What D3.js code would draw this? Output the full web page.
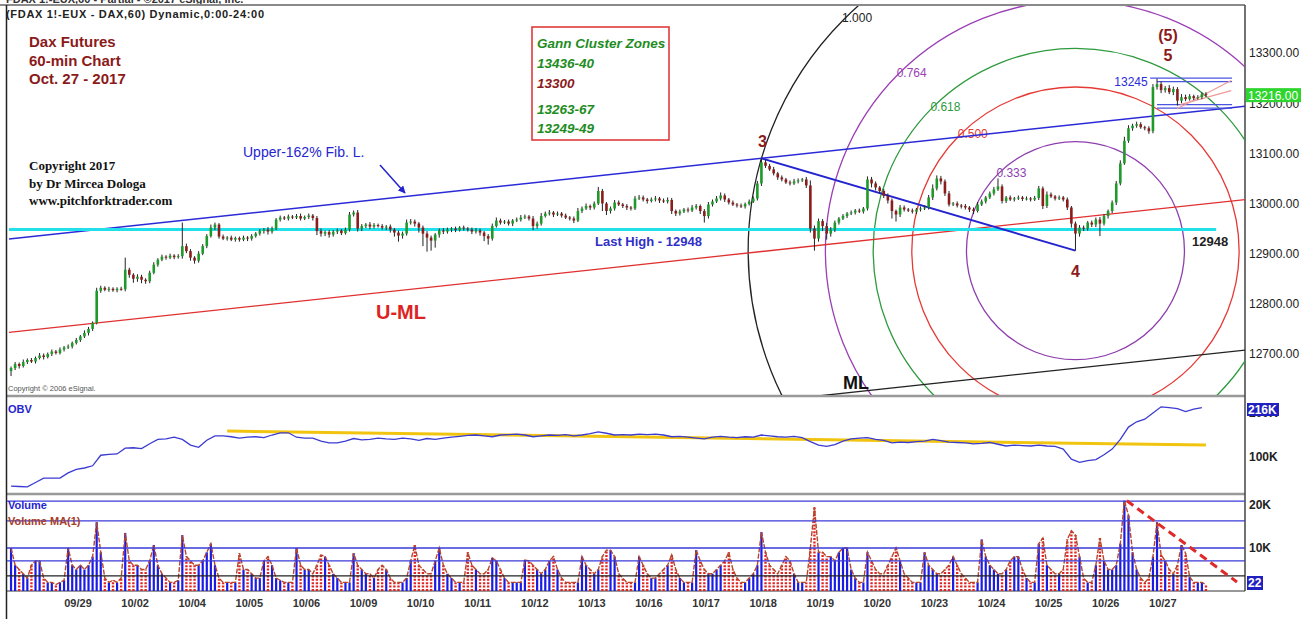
<!DOCTYPE html>
<html>
<head>
<meta charset="utf-8">
<script src="https://cdn.jsdelivr.net/npm/d3@7"></script>
<style>
body { margin:0; background:#fff; }
svg { display:block; font-family:"Liberation Sans", Arial, sans-serif; }
</style>
</head>
<body>
<script>
// trading days (14 hourly bars each), first one has no label on the chart
var days = ["09/28","09/29","10/02","10/04","10/05","10/06","10/09","10/10","10/11","10/12","10/13",
            "10/16","10/17","10/18","10/19","10/20","10/23","10/24","10/25","10/26","10/27"];

// hourly closes, one row per day
var firstOpen = 12666;
var closes = [
	[12672,12680,12676,12684,12688,12685,12692,12697,12694,12700,12705,12702,12709,12713],
	[12715,12722,12728,12735,12742,12750,12762,12826,12832,12828,12830,12827,12830,12829],
	[12868,12858,12850,12854,12848,12845,12862,12878,12888,12894,12892,12896,12893,12895],
	[12915,12905,12892,12886,12900,12915,12935,12952,12958,12934,12930,12932,12928,12931],
	[12928,12932,12930,12935,12940,12945,12948,12944,12950,12968,12972,12970,12974,12972],
	[12975,12970,12973,12976,12971,12945,12940,12943,12938,12944,12946,12941,12948,12978],
	[12982,12950,12955,12958,12954,12957,12955,12952,12954,12948,12942,12936,12940,12962],
	[12964,12960,12952,12940,12932,12926,12938,12946,12944,12948,12950,12947,12952,12950],
	[12948,12944,12946,12942,12935,12930,12955,12966,12962,12964,12960,12966,12968,12972],
	[12974,12970,12955,12960,12975,12980,12982,12978,12980,12976,12972,12970,12966,12985],
	[12990,12995,12992,13000,13025,13000,12985,12990,13002,12998,12995,12992,12990,13010],
	[13012,13008,13005,13008,13010,13006,13004,13007,12985,12980,12984,12988,12986,12992],
	[12995,12985,12975,12998,13004,13010,13016,13008,13002,12998,12996,12994,12999,13004],
	[13010,13040,13082,13075,13068,13060,13052,13048,13042,13040,13044,13046,13048,13036],
	[12950,12930,12965,12955,12940,12948,12962,12970,12975,12980,12982,12986,12984,12990],
	[13048,13040,13032,13025,13015,13006,12985,12978,12992,12988,12986,12984,12988,12990],
	[12992,13012,13030,13050,13044,13020,12998,13000,12996,12995,12992,12988,12985,12998],
	[13004,13012,13020,13028,13034,13005,13012,13008,13010,13012,13009,13010,13008,13011],
	[13030,12995,13018,13014,13010,13012,13008,12992,12960,12940,12952,12950,12962,12958],
	[12968,12960,12975,12985,13002,13040,13080,13125,13150,13155,13158,13152,13150,13144],
	[13232,13238,13226,13230,13222,13228,13205,13212,13208,13214,13210,13212,13218,13216]
];
// wick length above / below the body, points
var upWick = [
	[3,4,3,5,3,4,3,5,4,3,4,3,4,3],[4,3,4,3,5,4,3,6,4,3,4,3,3,4],[24,4,3,5,4,3,4,5,3,4,3,4,3,4],
	[47,5,4,3,5,4,4,6,4,3,4,3,4,3],[3,4,3,4,3,4,3,5,4,3,4,3,4,3],[4,5,3,4,3,4,5,3,4,3,4,3,4,5],
	[4,5,4,3,5,4,3,4,3,4,3,4,4,6],[5,4,3,4,5,4,3,4,5,4,3,4,3,4],[3,4,5,4,3,4,5,6,4,3,4,3,4,5],
	[4,3,5,4,6,4,5,3,4,3,4,3,4,6],[4,5,3,4,8,4,3,4,5,4,3,4,3,5],[5,4,3,4,5,3,4,5,4,3,4,3,4,5],
	[4,3,4,5,4,5,6,4,3,4,3,4,3,4],[4,5,8,5,4,5,3,4,3,4,5,4,3,5],[10,6,5,4,6,5,4,3,4,3,4,3,4,3],
	[6,5,4,3,4,5,4,3,5,4,3,4,3,4],[4,5,8,6,5,4,5,3,4,3,4,3,4,5],[4,3,4,5,16,4,3,4,3,4,3,4,3,4],
	[5,4,6,4,3,4,3,4,3,4,5,4,3,4],[4,5,4,3,4,5,6,8,6,4,5,4,3,4],[6,11,5,4,6,5,4,6,5,4,3,4,3,4]
];
var dnWick = [
	[10,4,5,3,4,3,4,3,5,3,4,3,3,4],[3,4,3,4,3,5,4,3,4,3,4,3,4,3],[4,6,8,6,7,5,4,3,4,3,4,3,4,3],
	[5,4,6,6,4,3,4,3,5,4,3,4,3,4],[4,3,5,4,3,4,5,6,4,3,4,3,4,3],[3,4,3,4,5,8,6,5,6,4,5,4,3,4],
	[4,6,5,4,5,4,3,4,5,6,8,12,6,4],[4,6,10,25,28,20,14,6,5,4,5,4,3,4],[4,5,4,6,10,12,4,3,4,3,4,5,3,4],
	[3,4,8,5,4,3,4,5,3,4,3,4,5,3],[4,3,5,4,3,15,8,5,4,3,4,5,4,3],[3,4,5,3,4,5,3,4,6,5,4,3,4,3],
	[4,6,13,5,4,3,4,5,4,3,4,3,4,3],[3,4,5,4,3,4,5,4,3,4,3,4,3,5],[8,24,6,10,12,6,5,4,3,4,3,4,3,4],
	[4,8,6,5,4,6,15,14,5,4,3,4,5,4],[3,4,5,4,6,5,4,3,4,5,4,5,6,3],[3,4,3,4,3,5,4,3,4,3,4,3,4,3],
	[4,6,4,3,4,3,4,5,8,34,6,5,4,5],[5,25,4,5,4,5,4,3,4,5,4,3,4,5],[4,5,6,5,4,6,10,5,4,3,4,3,4,3]
];
// hourly volume, thousands
var volume = [
	[10,6,5,4,3,6,7,7,3,2,2,1.5,2,2.5],
	[10,6,5,6,5,6,8,16,9,3,2,2.5,2,3],
	[13.5,7,6,6,5,5,7,10.7,6,4,3,2,2,2.5],
	[13,8,7,6,6,7,9,11,6,3,2,2,2,2],
	[8.8,5,5,4,3,3,7,8,6,3,2.5,2,2,2],
	[10,6,5,5,4,6,8.4,8,6,4,3,2,2,2],
	[8.8,6,5,4,4,3,5,6,5,3,2,2,2,3],
	[7,10.7,6,5,4,4,7,10,6,4,3,2,2,2],
	[9,6,5,4,4,5,7.7,7,5,3,2,2,2,2],
	[7.2,7,6,5,4,5,7,8,5,3,2,2,2,2],
	[8,6,5,4,5,8,9.5,9.5,8,4,3,2,2,2],
	[8,6,4,3,3,4,5,6,8.4,5,3,2,2,2],
	[9.5,7,5,4,4,5,6,7,9,5,3,2,2,3],
	[4,6,13.7,9,6,5,4,6,8,7,4,2,2,2],
	[10,19.5,9,9,8,8,7,9,10,10,5,3,2,2],
	[9,7,5,4,4,6,8,10,7,4,3,2,2,2],
	[9,6,5,4,4,5,6,8,6,4,3,2,2,2],
	[12,8,6,5,4,4,5,7,8,8,5,3,2,2],
	[11,12.3,6,5,4,4,5,12,14,13,8,3,2,2],
	[6,12.3,7,5,5,6,11,21,17.6,9,5,3,2,3],
	[8,16,8.4,7,5,4,6,10.7,8.8,3.3,2,2,2,1.5]
];
// OBV in thousands, read every second bar
var obv = [34,33,32,42,52,52,52,64,72,75,80,104,106,107,120,121,119,130,140,141,
	145,140,127,122,138,148,148,146,143,145,146,144,150,155,155,145,143,143,136,132,
	132,136,142,139,140,143,141,140,143,141,138,142,140,143,145,147,149,150,148,146,
	150,151,152,150,146,148,150,149,151,148,150,153,157,154,150,151,150,152,151,152,
	150,146,147,145,143,141,145,147,145,144,146,145,150,148,146,145,147,144,135,127,
	124,128,136,141,143,144,140,138,132,134,133,135,136,140,137,134,133,132,130,131,
	133,129,125,127,126,125,127,125,124,118,95,88,92,94,105,118,140,168,180,186,
	200,214,212,210,203,209,212];

var priceTicks = [12700,12800,12900,13000,13100,13200,13300];
var obvTicks = [100,200];
var volTicks = [10,20];
var lastPrice = 13216, lastObv = "216K", lastVol = "22";

// drawn studies (bar index, price)
var fibRatios  = [0.333, 0.5, 0.618, 0.764, 1.0];
var fibColors  = ["#8e3fae", "#e53935", "#2e9a3e", "#9b3fb5", "#222"];
var fibLabels  = ["0.333", "0.500", "0.618", "0.764", "1.000"];
var forkLines  = [
	{b0:-0.5, p0:12929, b1:305, p1:13196, color:"#2a2ad8", w:1.5},	// upper 162%
	{b0:-0.5, p0:12743, b1:305, p1:13010, color:"#e03030", w:1.3},	// U-ML
	{b0:-0.5, p0:12443, b1:305, p1:12710, color:"#222",    w:1.3}	// ML
];
var lastHigh = 12948;
var boxLines = [[279.3,13250],[281,13243],[281,13197],[281,13190]];
var triLines = [[285.9,13189,299.2,13245],[286.7,13197,299.2,13225]];
var obvTrend = [53,159,293,127];
var volLevels = [20.9, 16.3, 10, 7];
var volBlack = 3.5;
var volTrend = [273.6, 21, 300.6, 2.1];

var gannLines = [
	{t:"Gann Cluster Zones", c:"#1e8c1e"},
	{t:"13436-40", c:"#1e8c1e"},
	{t:"13300", c:"#8b1a1a"},
	{t:"13263-67", c:"#1e8c1e"},
	{t:"13249-49", c:"#1e8c1e"}
];

var W = 1308, H = 619;
var L = 7, R = 1245;
var svg = d3.select("body").append("svg").attr("width", W).attr("height", H);
var defs = svg.append("defs");
defs.append("clipPath").attr("id","cMain").append("rect").attr("x",L).attr("y",6).attr("width",R-L).attr("height",389);
defs.append("clipPath").attr("id","cObv").append("rect").attr("x",L).attr("y",398).attr("width",R-L).attr("height",94);
defs.append("clipPath").attr("id","cVol").append("rect").attr("x",L).attr("y",496).attr("width",R-L).attr("height",95);

// flat bar list
var bars = [];
closes.forEach(function(day, k){
	day.forEach(function(c, j){
		var i = bars.length;
		var o = i == 0 ? firstOpen : bars[i-1].c;
		bars.push({i:i, o:o, c:c, h:Math.max(o,c)+upWick[k][j], l:Math.min(o,c)-dnWick[k][j], v:volume[k][j]});
	});
});

var x = d3.scaleLinear().domain([-0.5, bars.length-0.5]).range([9, 1208]);
var yP = d3.scaleLinear().domain([12700, 13300]).range([354, 53]);
var yO = d3.scaleLinear().domain([100, 200]).range([457, 413]);
var yV = d3.scaleLinear().domain([0, 20]).range([591, 505]);

// ---------- frame ----------
svg.append("text").attr("x",6).attr("y",3).attr("font-size",11).attr("font-weight","bold").attr("fill","#333")
	.text("FDAX 1!-EUX,60 - Partial - \u00a92017 eSignal, Inc.");
svg.append("line").attr("x1",0).attr("x2",R).attr("y1",5).attr("y2",5).attr("stroke","#8a8a8a").attr("stroke-width",2);
[396, 494].forEach(function(yy){
	svg.append("line").attr("x1",L).attr("x2",R).attr("y1",yy).attr("y2",yy).attr("stroke","#999").attr("stroke-width",2.5);
});
svg.append("line").attr("x1",L).attr("x2",R).attr("y1",591).attr("y2",591).attr("stroke","#333").attr("stroke-width",1.2);
svg.append("line").attr("x1",L-0.5).attr("x2",L-0.5).attr("y1",5).attr("y2",H).attr("stroke","#222").attr("stroke-width",1.5);
svg.append("line").attr("x1",R).attr("x2",R).attr("y1",5).attr("y2",591).attr("stroke","#444").attr("stroke-width",1.5);

// ---------- main panel ----------
var gm = svg.append("g").attr("clip-path","url(#cMain)");

// fib circles centred on point 4, radius = distance 3 -> 4
var p3 = d3.maxIndex(bars.slice(0, 200), function(d){ return d.h; });
var p4 = 200 + d3.minIndex(bars.slice(200, 280), function(d){ return d.l; });
var c3 = [x(p3), yP(bars[p3].h)], c4 = [x(p4), yP(bars[p4].l)];
var rad = Math.hypot(c3[0]-c4[0], c3[1]-c4[1]);
fibRatios.forEach(function(f, n){
	gm.append("circle").attr("cx",c4[0]).attr("cy",c4[1]).attr("r",rad*f)
		.attr("fill","none").attr("stroke",fibColors[n]).attr("stroke-width",1.3);
	gm.append("text").attr("x",c4[0]-rad*f*0.707-2).attr("y",c4[1]-rad*f*0.712+4)
		.attr("font-size",12).attr("fill",fibColors[n]).text(fibLabels[n]);
});

forkLines.forEach(function(d){
	gm.append("line").attr("x1",x(d.b0)).attr("y1",yP(d.p0)).attr("x2",x(d.b1)).attr("y2",yP(d.p1))
		.attr("stroke",d.color).attr("stroke-width",d.w);
});
gm.append("line").attr("x1",x(-0.5)).attr("x2",x(295.5)).attr("y1",yP(lastHigh)).attr("y2",yP(lastHigh))
	.attr("stroke","#22e0ea").attr("stroke-width",3);
gm.append("line").attr("x1",c3[0]).attr("y1",c3[1]).attr("x2",c4[0]).attr("y2",c4[1])
	.attr("stroke","#2323cf").attr("stroke-width",2);

boxLines.forEach(function(d){
	gm.append("line").attr("x1",x(d[0])).attr("x2",x(299.4)).attr("y1",yP(d[1])).attr("y2",yP(d[1]))
		.attr("stroke","#4b55e0").attr("stroke-width",1.2);
});
triLines.forEach(function(d){
	gm.append("line").attr("x1",x(d[0])).attr("y1",yP(d[1])).attr("x2",x(d[2])).attr("y2",yP(d[3]))
		.attr("stroke","#ee9a9a").attr("stroke-width",1.2);
});

// candles
var cg = gm.append("g");
cg.selectAll("line.w").data(bars).enter().append("line").attr("class","w")
	.attr("x1",function(d){ return x(d.i); }).attr("x2",function(d){ return x(d.i); })
	.attr("y1",function(d){ return yP(d.h); }).attr("y2",function(d){ return yP(d.l); })
	.attr("stroke","#222").attr("stroke-width",1);
cg.selectAll("rect").data(bars).enter().append("rect")
	.attr("x",function(d){ return x(d.i)-1.3; }).attr("width",2.6)
	.attr("y",function(d){ return yP(Math.max(d.o,d.c)); })
	.attr("height",function(d){ return Math.max(1, Math.abs(yP(d.o)-yP(d.c))); })
	.attr("fill",function(d){ return d.c >= d.o ? "#1f9a2a" : "#8b1c1c"; });

// ---------- main panel texts ----------
var tt = svg.append("g");
tt.append("text").attr("x",6).attr("y",18).attr("font-size",11).attr("font-weight","bold").attr("fill","#222")
	.attr("textLength",258).text("(FDAX 1!-EUX - DAX,60) Dynamic,0:00-24:00");
["Dax Futures","60-min Chart","Oct. 27 - 2017"].forEach(function(s, n){
	tt.append("text").attr("x",29).attr("y",47+n*18.5).attr("font-size",15).attr("font-weight","bold")
		.attr("fill","#8b1a1a").text(s);
});
["Copyright 2017","by Dr Mircea Dologa","www.pitchforktrader.com"].forEach(function(s, n){
	tt.append("text").attr("x",29).attr("y",170+n*17.5).attr("font-size",13).attr("font-weight","bold")
		.attr("font-family","'Liberation Serif','Times New Roman',serif").attr("fill","#111").text(s);
});
tt.append("text").attr("x",8).attr("y",391).attr("font-size",7.5).attr("fill","#555").text("Copyright \u00a9 2006 eSignal.");

tt.append("rect").attr("x",532).attr("y",27).attr("width",137).attr("height",113)
	.attr("fill","none").attr("stroke","#e03a3a").attr("stroke-width",1.6);
gannLines.forEach(function(d, n){
	tt.append("text").attr("x",537).attr("y",[48,68,88,114,133][n]).attr("font-size",13.5)
		.attr("font-style","italic").attr("font-weight","bold").attr("fill",d.c).text(d.t);
});

tt.append("text").attr("x",243).attr("y",157).attr("font-size",14).attr("fill","#2525cf").text("Upper-162% Fib. L.");
defs.append("marker").attr("id","arr").attr("viewBox","0 0 10 10").attr("refX",9).attr("refY",5)
	.attr("markerWidth",5).attr("markerHeight",5).attr("orient","auto")
	.append("path").attr("d","M0,0L10,5L0,10z").attr("fill","#2525cf");
tt.append("line").attr("x1",380).attr("y1",165).attr("x2",405).attr("y2",193)
	.attr("stroke","#2525cf").attr("stroke-width",1.5).attr("marker-end","url(#arr)");
tt.append("text").attr("x",595).attr("y",246).attr("font-size",13).attr("font-weight","bold").attr("fill","#3030c8").text("Last High - 12948");
tt.append("text").attr("x",1192).attr("y",246).attr("font-size",13).attr("font-weight","bold").attr("fill","#222").text("12948");
tt.append("text").attr("x",376).attr("y",319).attr("font-size",20).attr("font-weight","bold").attr("fill","#dd2424").text("U-ML");
tt.append("text").attr("x",843).attr("y",389).attr("font-size",18).attr("font-weight","bold").attr("fill","#111").text("ML");
tt.append("text").attr("x",1131).attr("y",86).attr("font-size",12).attr("text-anchor","middle").attr("fill","#2a2ae0").text("13245");

var wave = [{t:"3", x:c3[0]+1, y:147}, {t:"4", x:c4[0], y:277}, {t:"5", x:1168, y:61}, {t:"(5)", x:1168, y:41}];
wave.forEach(function(d){
	tt.append("text").attr("x",d.x).attr("y",d.y).attr("text-anchor","middle").attr("font-size",16)
		.attr("font-weight","bold").attr("fill","#8b1a1a").text(d.t);
});

// price axis
var ax = svg.append("g").attr("transform","translate("+R+",0)")
	.call(d3.axisRight(yP).tickValues(priceTicks).tickSize(0).tickPadding(4).tickFormat(d3.format(".2f")));
ax.select(".domain").remove();
ax.selectAll("text").attr("font-size",12).attr("fill","#222").attr("font-family","'Liberation Sans',Arial,sans-serif");
svg.append("rect").attr("x",R+1).attr("y",yP(lastPrice)-7).attr("width",55).attr("height",14).attr("fill","#2fd52f");
svg.append("text").attr("x",R+3).attr("y",yP(lastPrice)+4.5).attr("font-size",12).attr("fill","#fff").text(d3.format(".2f")(lastPrice));

// ---------- OBV ----------
var go = svg.append("g").attr("clip-path","url(#cObv)");
go.append("line").attr("x1",x(obvTrend[0])).attr("y1",yO(obvTrend[1])).attr("x2",x(obvTrend[2])).attr("y2",yO(obvTrend[3]))
	.attr("stroke","#f1c40f").attr("stroke-width",3);
go.append("path").datum(obv)
	.attr("d", d3.line().x(function(d, j){ return x(j*2); }).y(function(d){ return yO(d); }))
	.attr("fill","none").attr("stroke","#3b3bd2").attr("stroke-width",1.3);
svg.append("text").attr("x",8).attr("y",413).attr("font-size",11).attr("font-weight","bold").attr("fill","#2525cf").text("OBV");
var ao = svg.append("g").attr("transform","translate("+R+",0)")
	.call(d3.axisRight(yO).tickValues(obvTicks).tickSize(0).tickPadding(4).tickFormat(function(d){ return d+"K"; }));
ao.select(".domain").remove();
ao.selectAll("text").attr("font-size",12).attr("font-weight","bold").attr("fill","#222");
svg.append("rect").attr("x",R+2).attr("y",403).attr("width",32).attr("height",13).attr("fill","#2020c0");
svg.append("text").attr("x",R+3).attr("y",414).attr("font-size",12).attr("font-weight","bold").attr("fill","#fff").text(lastObv);

// ---------- Volume ----------
var gv = svg.append("g").attr("clip-path","url(#cVol)");
gv.selectAll("rect").data(bars.filter(function(d){ return d.c >= d.o; })).enter().append("rect")
	.attr("x",function(d){ return x(d.i)-1.1; }).attr("width",2.2)
	.attr("y",function(d){ return yV(d.v); }).attr("height",function(d){ return yV(0)-yV(d.v); })
	.attr("fill","#1b1be6");
gv.selectAll("line.dn").data(bars.filter(function(d){ return d.c < d.o; })).enter().append("line").attr("class","dn")
	.attr("x1",function(d){ return x(d.i); }).attr("x2",function(d){ return x(d.i); })
	.attr("y1",yV(0)).attr("y2",function(d){ return yV(d.v); })
	.attr("stroke","#e02424").attr("stroke-width",2.4).attr("stroke-dasharray","2,1.4");
gv.append("path").datum(bars)
	.attr("d", d3.line().x(function(d){ return x(d.i); }).y(function(d){ return yV(d.v); }))
	.attr("fill","none").attr("stroke","#b5472a").attr("stroke-width",1.4).attr("stroke-dasharray","5,1.5");
volLevels.forEach(function(v){
	gv.append("line").attr("x1",L).attr("x2",R).attr("y1",yV(v)).attr("y2",yV(v)).attr("stroke","#3a3ad8").attr("stroke-width",1.4);
});
gv.append("line").attr("x1",L).attr("x2",R).attr("y1",yV(volBlack)).attr("y2",yV(volBlack)).attr("stroke","#222").attr("stroke-width",1.3);
gv.append("line").attr("x1",x(volTrend[0])).attr("y1",yV(volTrend[1])).attr("x2",x(volTrend[2])).attr("y2",yV(volTrend[3]))
	.attr("stroke","#e02a2a").attr("stroke-width",3).attr("stroke-dasharray","8,5");
svg.append("text").attr("x",8).attr("y",509).attr("font-size",11).attr("font-weight","bold").attr("fill","#2525cf").text("Volume");
svg.append("text").attr("x",8).attr("y",525).attr("font-size",11).attr("font-weight","bold").attr("fill","#a8402a").text("Volume MA(1)");
var av = svg.append("g").attr("transform","translate("+R+",0)")
	.call(d3.axisRight(yV).tickValues(volTicks).tickSize(0).tickPadding(4).tickFormat(function(d){ return d+"K"; }));
av.select(".domain").remove();
av.selectAll("text").attr("font-size",12).attr("font-weight","bold").attr("fill","#222");
svg.append("rect").attr("x",R+2).attr("y",576).attr("width",16).attr("height",14).attr("fill","#2020c0");
svg.append("text").attr("x",R+3).attr("y",587).attr("font-size",12).attr("font-weight","bold").attr("fill","#fff").text(lastVol);

// ---------- date axis ----------
var dayPos = days.map(function(d, k){ return k*14 + 2.3; });
var axd = svg.append("g").attr("transform","translate(0,591)")
	.call(d3.axisBottom(x).tickValues(dayPos.slice(1)).tickSize(0).tickPadding(8)
		.tickFormat(function(d, n){ return days[n+1]; }));
axd.select(".domain").remove();
axd.selectAll("text").attr("font-size",11).attr("font-weight","bold").attr("fill","#333");
</script>
</body>
</html>
